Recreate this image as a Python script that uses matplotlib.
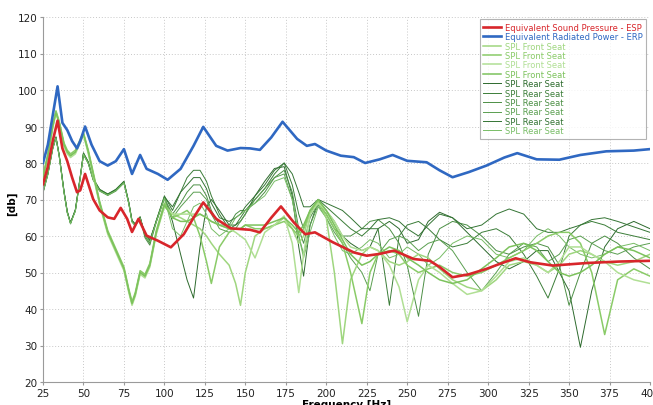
#!/usr/bin/env python3
"""Equivalent sound pressure / radiated power vs frequency, with seat SPL curves."""

import matplotlib

matplotlib.use("Agg")
import matplotlib.pyplot as plt

# ---- data ----
erp_freq = [25, 28, 31, 34, 37, 40, 43, 46, 48, 51, 55, 60, 65, 70, 75, 80, 85, 89, 96, 102,
            110, 118, 124, 132, 139, 147, 153, 159, 166, 173, 182, 188, 193, 200, 209, 217, 224,
            233, 241, 250, 262, 270, 278, 288, 299, 310, 318, 330, 344, 357, 373, 390, 400]
erp_db = [80, 85, 93, 101, 91, 89, 86, 84, 86, 90, 85, 80.5, 79.3, 80.5, 83.8, 77, 82.2, 78.4, 77, 75.4,
          78.4, 84.7, 89.9, 84.7, 83.4, 84.1, 84, 83.6, 87, 91.3, 86.6, 84.7, 85.2, 83.4, 82, 81.6, 80,
          81, 82.2, 80.6, 80.2, 78, 76.1, 77.5, 79.3, 81.5, 82.7, 81, 80.9, 82.2, 83.2, 83.4, 83.8]

esp_freq = [25, 28, 31, 34, 37, 40, 43, 46, 48, 51, 56, 60, 65, 69, 73, 77, 80, 84, 89, 96,
            104, 112, 118, 124, 132, 141, 147, 153, 159, 166, 172, 180, 187, 193, 204, 217, 225,
            233, 242, 254, 264, 270, 278, 288, 299, 308, 317, 326, 340, 361, 381, 400]
esp_db = [74.2, 79, 86, 91.6, 84, 80.5, 76, 72, 72.5, 77, 70.1, 67, 65.1, 64.7, 67.7, 64.7, 61.1, 64.7, 60.1, 58.7,
          56.9, 60.5, 65, 69.2, 64.7, 62.1, 61.9, 61.7, 61, 65, 68.1, 63.7, 60.5, 61, 58.3, 55.5, 54.6,
          55.1, 56, 53.7, 53.2, 51.5, 48.7, 49.5, 51, 52.5, 53.9, 52.8, 51.9, 52.6, 53, 53.2]

# shared frequency grid for the seat curves
seat_freq = [25, 28, 31, 33, 35, 38, 40, 42, 45, 48,
             50, 53, 56, 60, 65, 70, 75, 78, 80, 82,
             85, 88, 91, 95, 100, 105, 110, 114, 118, 122,
             126, 129, 134, 140, 144, 147, 150, 156, 162, 168,
             174, 179, 183, 186, 190, 195, 200, 205, 210, 215,
             222, 227, 232, 239, 245, 250, 257, 263, 270, 278,
             287, 296, 305, 313, 322, 330, 337, 344, 350, 357,
             364, 372, 380, 390, 400]

front_1 = [76, 82, 90, 94, 91, 85, 83, 82, 83, 86,
           88, 83, 77, 69, 61, 56, 51, 45, 41.5, 44,
           50, 49, 52, 61, 68.5, 66, 65, 64, 63, 62,
           60, 58, 55, 52, 47, 41, 50, 60, 62, 63,
           65, 62, 58, 60, 67, 69.5, 65, 50, 30.5, 48,
           55, 57, 56, 53, 52, 53, 55, 54, 51, 48,
           46, 45, 48, 52, 53, 52, 50, 52, 55, 56,
           55, 53, 52, 53, 55]
front_2 = [76.5, 82.5, 90.5, 94.3, 91.5, 85.5, 83.5, 82.5, 83.5, 86.5,
           88.3, 83.5, 77.5, 69.5, 61.5, 56.5, 51.5, 45.5, 42, 44.5,
           50.5, 49.5, 52.5, 61.5, 69, 65, 66, 67, 65, 60,
           53, 47, 57, 61, 62, 62, 63, 62, 62, 63,
           64, 62, 60, 62, 67, 69, 66, 62, 58, 50,
           36, 50, 55, 56, 55, 52, 50, 51, 52, 50,
           49, 50, 52, 54, 56, 58, 60, 61, 61, 58,
           50, 33, 48, 51, 49]
front_3 = [75.5, 81.5, 89.5, 93.7, 90.5, 84.5, 82.5, 81.5, 82.5, 85.5,
           87.7, 82.5, 76.5, 68.5, 60.5, 55.5, 50.5, 44.5, 41, 43.5,
           49.5, 48.5, 51.5, 60.5, 68, 66, 66, 66, 66, 66,
           65, 64, 63, 62, 61, 60, 59, 54, 61, 63,
           65.5, 58, 44.5, 55, 66, 69, 67, 64, 60, 57,
           56, 57, 56, 52, 46, 36.5, 48, 52, 50, 47,
           44, 45, 49, 53, 54, 52, 50, 53, 57, 57,
           55, 53, 50, 48, 47]
front_4 = [76, 82, 90, 93.8, 91, 85, 83, 82, 83, 86,
           88, 83, 77, 69, 61, 56, 51, 45, 41.5, 44,
           50, 49, 52, 61, 68.5, 65, 64, 64, 65, 66,
           65, 64, 63, 62, 62, 62, 63, 63, 63, 64,
           65, 63, 61, 63, 67, 70, 67, 63, 59, 55,
           52, 53, 55, 57, 56, 54, 52, 50, 48, 47,
           48, 51, 54, 57, 58, 56, 53, 50, 49, 50,
           52, 55, 57, 56, 54]

rear_1 = [72, 77, 84, 87, 82, 72, 66.5, 63.5, 67, 76,
          82.5, 80, 75.5, 72.5, 71.3, 72.5, 74.7, 69, 64, 63,
          65, 60.5, 59, 64, 70.5, 64, 55, 48, 43, 57,
          68, 70, 67, 63, 63, 64, 66, 71, 75, 78.5,
          79, 71, 57, 49, 63, 69.5, 67, 64, 60, 58,
          56, 57, 62, 64, 62, 58, 59, 64, 66.5, 65,
          61, 57, 53, 51, 53, 56, 56, 50, 45, 29.5,
          45, 57, 62, 64, 62]
rear_2 = [72.3, 77.3, 84.3, 87, 82.3, 72.3, 66.8, 63.3, 67.3, 76.3,
          82.8, 80.3, 75.8, 72.8, 71.5, 72.8, 75, 69.3, 64.3, 63.3,
          65.3, 60, 58, 64.3, 71, 67, 72, 76, 78, 78,
          75, 71, 66, 62, 63, 65, 67, 70, 73, 77,
          80, 74, 66, 62, 66, 70, 68, 66, 64, 62,
          60, 62, 62, 41, 60, 63, 64, 62, 59, 57,
          58, 61, 62, 60, 55, 49, 43, 51, 60, 63,
          64, 63, 61, 60, 59]
rear_3 = [71.8, 76.8, 83.8, 86.8, 81.8, 71.8, 66.3, 63.8, 66.8, 75.8,
          82.3, 79.8, 75.3, 72.3, 71.1, 72.3, 74.5, 68.8, 63.8, 62.8,
          64.8, 59.5, 57.5, 63.8, 70.3, 66, 69, 72, 74, 74,
          71, 67, 63, 63, 66, 67, 67, 69, 72, 76,
          78, 72, 62, 58, 65, 69, 66, 62, 60, 60,
          62, 64, 64.5, 62, 58, 52, 38, 55, 62, 64,
          63, 60, 56, 55, 57, 58, 57, 52, 41, 50,
          58, 60, 58, 54, 51]
rear_4 = [72, 77, 84, 87, 82, 72, 66.5, 63.5, 67, 76,
          82.5, 80, 75.5, 72.5, 71.3, 72.5, 74.7, 69, 64, 63,
          65, 60.5, 58.5, 64, 70.5, 65, 68, 70, 72, 72,
          70, 66, 62, 61, 62, 64, 66, 70, 73, 76,
          77, 70, 60, 55, 63, 68.5, 65, 61, 58, 54,
          50, 45, 55, 59, 60, 59, 56, 58, 59, 56,
          50, 45, 50, 55, 58, 57, 53, 55, 59, 60,
          58, 56, 55, 57, 58]
rear_5 = [72.2, 77.2, 84.2, 87.2, 82.2, 72.2, 66.7, 63.7, 67.2, 76.2,
          82.7, 80.2, 75.7, 72.7, 71.5, 72.7, 74.9, 69.2, 64.2, 63.2,
          65.2, 60.2, 58.7, 64.2, 70.7, 68, 72, 74, 76, 76,
          73, 69, 65, 64, 65, 66, 68, 71, 74, 78,
          80, 77, 72, 68, 68, 70, 69, 68, 67, 65,
          62, 62, 64.5, 65, 64, 62, 60, 63, 66, 65,
          62, 63, 66, 67.4, 66, 62, 61, 61, 62, 63,
          64.5, 65, 64, 62.5, 61]
rear_6 = [71.9, 76.9, 83.9, 86.9, 81.9, 71.9, 66.4, 63.4, 66.9, 75.9,
          82.4, 79.9, 75.4, 72.4, 71.2, 72.4, 74.6, 68.9, 63.9, 62.9,
          64.9, 60.3, 58.3, 63.9, 70.4, 62, 60, 64, 68, 69,
          66, 62, 60, 62, 65, 66, 67, 69, 71, 75,
          76, 70, 60, 54, 61, 68, 65, 60, 56, 55,
          57, 59, 58, 54, 55, 57, 55, 52, 54, 58,
          60, 59, 55, 54, 56, 60, 62, 60, 57, 55,
          54, 55, 57, 58, 56]

front_series = [front_1, front_2, front_3, front_4]
rear_series = [rear_1, rear_2, rear_3, rear_4, rear_5, rear_6]
front_colors = ["#9fd67f", "#8acb68", "#b0df94", "#7cc25c"]
rear_colors = ["#2d6a2d", "#3b7d38", "#4c8f45", "#5a9f50", "#347434", "#78bd66"]

x_ticks = list(range(25, 401, 25))
y_ticks = list(range(20, 121, 10))


def main() -> int:
    plt.rcParams["font.family"] = "DejaVu Sans"
    fig = plt.figure(figsize=(6.53, 4.06), dpi=100)
    ax = fig.add_axes([43 / 653, 23 / 406, 607 / 653, 365 / 406])

    ax.plot(esp_freq, esp_db, color="#d8262b", lw=1.9, label="Equivalent Sound Pressure - ESP", zorder=5)
    ax.plot(erp_freq, erp_db, color="#2f68c2", lw=1.9, label="Equivalent Radiated Power - ERP", zorder=5)
    for ys, c in zip(front_series, front_colors):
        ax.plot(seat_freq, ys, color=c, lw=1.1, label="SPL Front Seat", zorder=3)
    for ys, c in zip(rear_series, rear_colors):
        ax.plot(seat_freq, ys, color=c, lw=0.7, label="SPL Rear Seat", zorder=2)

    ax.set_xlim(25, 400)
    ax.set_ylim(20, 120)
    ax.set_xticks(x_ticks)
    ax.set_yticks(y_ticks)
    ax.tick_params(labelsize=7.5, length=2, color="#999999", pad=2, labelcolor="#222222")
    ax.grid(True, color="#c8c8c8", ls=(0, (1, 2)), lw=0.7)
    for side in ("top", "right"):
        ax.spines[side].set_visible(False)
    for side in ("left", "bottom"):
        ax.spines[side].set_color("#9a9a9a")
        ax.spines[side].set_linewidth(0.8)

    ax.set_xlabel("Frequency [Hz]", fontsize=7.5, fontweight="bold", labelpad=1)
    ax.set_ylabel("[db]", fontsize=7.5, fontweight="bold")
    ax.yaxis.set_label_coords(-0.043, 0.49)

    leg = ax.legend(loc="upper right", fontsize=6, labelspacing=0.05, handlelength=2.2,
                    handletextpad=0.4, borderpad=0.4, frameon=True, fancybox=False,
                    bbox_to_anchor=(1.0, 1.005))
    leg.get_frame().set_edgecolor("#a0a0a0")
    leg.get_frame().set_linewidth(0.8)
    for txt, line in zip(leg.get_texts(), leg.get_lines()):
        txt.set_color(line.get_color())

    fig.savefig("out.png", dpi=100)
    return 0


if __name__ == "__main__":
    raise SystemExit(main())
